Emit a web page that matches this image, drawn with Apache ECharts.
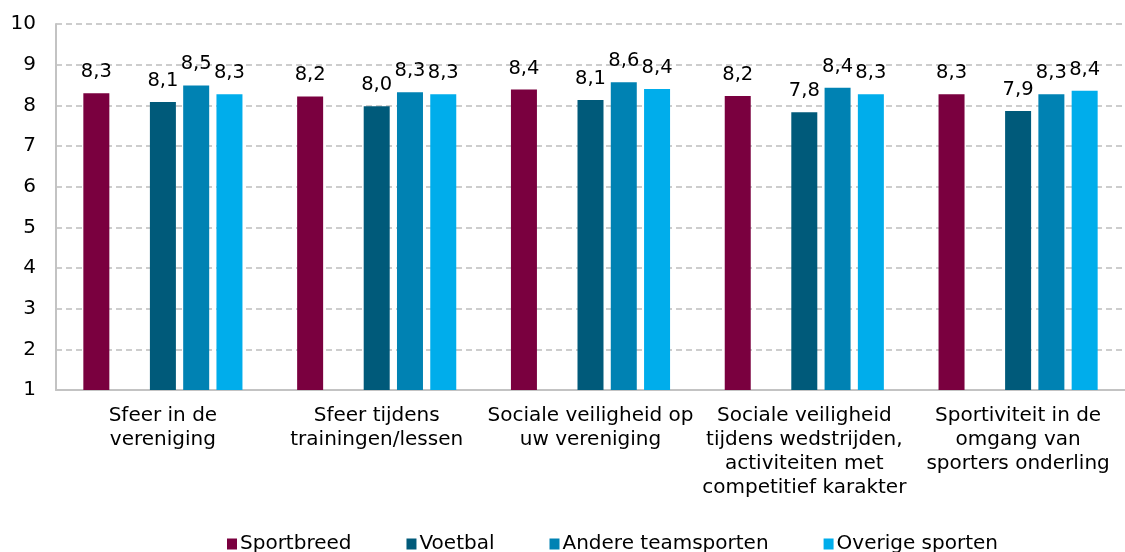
<!DOCTYPE html>
<html>
<head>
<meta charset="utf-8">
<script src="https://cdn.jsdelivr.net/npm/echarts@6/dist/echarts.min.js"></script>
<style>
  html, body { margin: 0; padding: 0; background: #fff; }
  #container-chart { width: 1125px; height: 552px; }
</style>
</head>
<body>
<div id="container-chart"></div>
<script>
var categories = [
  'Sfeer in de\nvereniging',
  'Sfeer tijdens\ntrainingen/lessen',
  'Sociale veiligheid op\nuw vereniging',
  'Sociale veiligheid\ntijdens wedstrijden,\nactiviteiten met\ncompetitief karakter',
  'Sportiviteit in de\nomgang van\nsporters onderling'
];
var sportbreed = [8.30, 8.22, 8.39, 8.23, 8.27];
var voetbal = [8.08, 7.98, 8.13, 7.83, 7.86];
var andereTeamsporten = [8.49, 8.32, 8.57, 8.43, 8.27];
var overigeSporten = [8.27, 8.27, 8.40, 8.27, 8.36];
var seriesNames = ['Sportbreed', 'Voetbal', 'Andere teamsporten', 'Overige sporten'];
var colors = ['#7a003f', '#005a7a', '#0082b3', '#00adeb'];

var fontName = 'DejaVu Sans';

function makeBar(name, data, color) {
  return {
    name: name,
    type: 'bar',
    data: data,
    barWidth: 26,
    barGap: '28%',
    barCategoryGap: '26%',
    itemStyle: { color: color },
    label: {
      show: true,
      position: 'top',
      distance: 11,
      color: '#000',
      fontFamily: fontName,
      fontSize: 19.5,
      formatter: function (p) {
        return p.value.toFixed(1).replace('.', ',');
      }
    }
  };
}

var dom = document.getElementById('container-chart');
var myChart = echarts.init(dom);
var option = {
  animation: false,
  grid: { left: 56, right: 0, top: 24, bottom: 162 },
  legend: {
    top: 529,
    left: 222,
    data: seriesNames,
    itemWidth: 10,
    itemHeight: 11,
    itemGap: 55,
    icon: 'rect',
    textStyle: { fontFamily: fontName, fontSize: 20, color: '#000', padding: [0, 0, 0, -2] }
  },
  xAxis: {
    type: 'category',
    data: categories,
    axisLine: { lineStyle: { color: '#c3c3c3', width: 2 } },
    axisTick: { show: false },
    axisLabel: {
      interval: 0,
      margin: 14,
      color: '#000',
      fontFamily: fontName,
      fontSize: 20,
      lineHeight: 24,
      align: 'center'
    }
  },
  yAxis: {
    type: 'value',
    min: 1,
    max: 10,
    interval: 1,
    axisLine: { show: true, lineStyle: { color: '#c3c3c3', width: 2 } },
    axisTick: { show: false },
    axisLabel: { color: '#000', fontFamily: fontName, fontSize: 20, margin: 20 },
    splitLine: { lineStyle: { color: '#bdbdbd', type: [6, 4], width: 1.5 } }
  },
  series: [
    makeBar(seriesNames[0], sportbreed, colors[0]),
    { name: '', type: 'bar', data: [null, null, null, null, null], barWidth: 26 },
    makeBar(seriesNames[1], voetbal, colors[1]),
    makeBar(seriesNames[2], andereTeamsporten, colors[2]),
    makeBar(seriesNames[3], overigeSporten, colors[3])
  ]
};
myChart.setOption(option, true);
</script>
</body>
</html>
